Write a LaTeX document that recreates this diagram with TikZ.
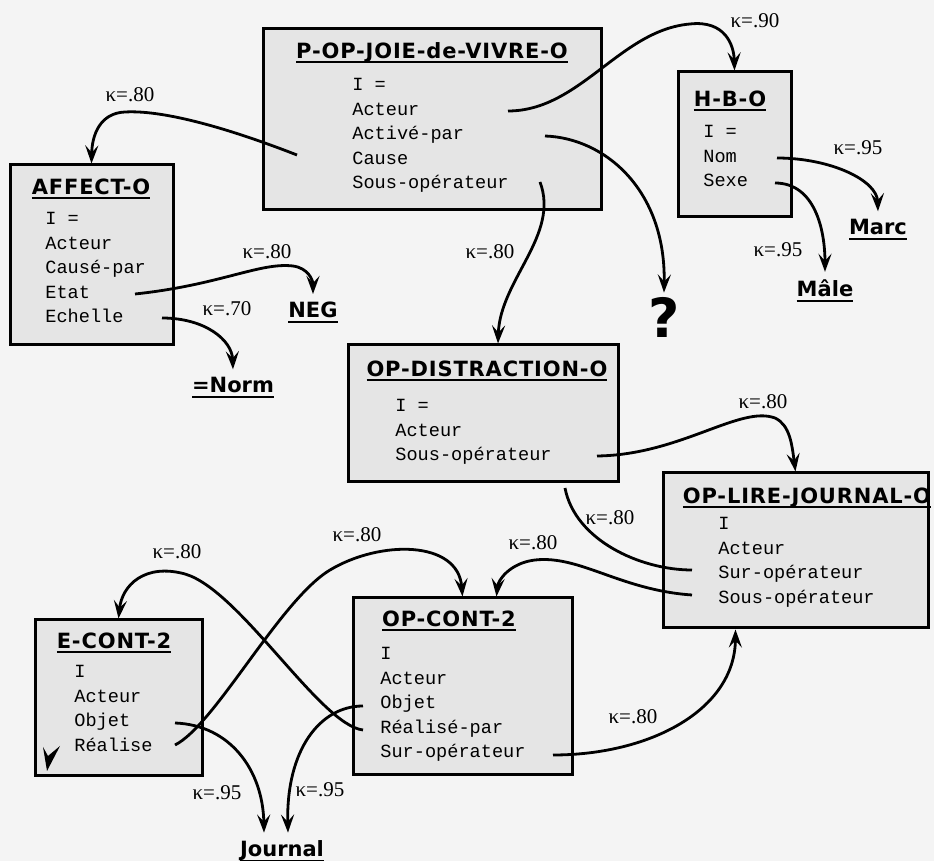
\documentclass[tikz,border=0pt]{standalone}
\usepackage{fontspec}
\setmainfont{Liberation Serif}
\newfontfamily\fieldfont{Liberation Mono}
\newfontfamily\titlefont{DejaVu Sans}[LetterSpace=4]
\newfontfamily\valuefont{DejaVu Sans}
\newsavebox\ulbox
\newcommand{\ulx}[1]{\sbox\ulbox{#1}\rlap{\vrule width\wd\ulbox height -1.3pt depth 2.3pt}\usebox\ulbox}
\usetikzlibrary{arrows.meta,positioning}

\begin{document}
\begin{tikzpicture}[x=0.5pt,y=-0.5pt,
    frame/.style={draw=black,line width=1.5pt,fill=gray!20,inner sep=0pt},
    head/.style={font=\titlefont\bfseries\fontsize{10.5}{12}\selectfont,inner sep=0pt,anchor=base},
    field/.style={font=\fieldfont\fontsize{9.3}{11}\selectfont,inner sep=0pt,anchor=base west},
    value/.style={font=\valuefont\bfseries\fontsize{10.5}{12}\selectfont,inner xsep=1pt,inner ysep=4pt,anchor=base},
    kappa/.style={font=\fontsize{10.5}{12}\selectfont,inner sep=0pt},
    link/.style={line width=1.4pt,-{Stealth[length=9pt,width=6.5pt,inset=3.5pt]}},
    plain/.style={line width=1.4pt}]
    % page
    \fill[gray!9] (0,0) rectangle (934,861);
    \useasboundingbox (0,0) rectangle (934,861);

    % P-OP-JOIE-de-VIVRE-O
    \node[frame,minimum width=169pt,minimum height=90.5pt] (pop) at (432,119.5) {};
    \node[head] (pop-t) at (432,58.5) {\ulx{P-OP-JOIE-de-VIVRE-O}};
    \foreach \t [count=\i] in {I =,Acteur,Activé-par,Cause,Sous-opérateur}
        \node[field] (pop-\i) at (352,{91+24.5*(\i-1)}) {\t};
    \coordinate (pop-acteur) at (508,111);
    \coordinate (pop-active) at (545,136);
    \coordinate (pop-cause) at (297,155);
    \coordinate (pop-sous) at (540,182);

    % H-B-O
    \node[frame,minimum width=56.5pt,minimum height=72.5pt] (hbo) at (734.5,144.5) {};
    \node[head] (hbo-t) at (730,106.5) {\ulx{H-B-O}};
    \foreach \t [count=\i] in {I =,Nom,Sexe}
        \node[field] (hbo-\i) at (703,{138+24.5*(\i-1)}) {\t};
    \coordinate (hbo-nom) at (777,158);
    \coordinate (hbo-sexe) at (775,183);

    % AFFECT-O
    \node[frame,minimum width=81.5pt,minimum height=90pt] (affect) at (91.5,255) {};
    \node[head] (affect-t) at (91,194.5) {\ulx{AFFECT-O}};
    \foreach \t [count=\i] in {I =,Acteur,Causé-par,Etat,Echelle}
        \node[field] (affect-\i) at (45,{225+24.5*(\i-1)}) {\t};
    \coordinate (affect-etat) at (135,294);
    \coordinate (affect-echelle) at (162,318);

    % OP-DISTRACTION-O
    \node[frame,minimum width=135pt,minimum height=68.5pt] (dist) at (483,413.5) {};
    \node[head] (dist-t) at (487,376.5) {\ulx{OP-DISTRACTION-O}};
    \foreach \t [count=\i] in {I =,Acteur,Sous-opérateur}
        \node[field] (dist-\i) at (395,{412+24.5*(\i-1)}) {\t};
    \coordinate (dist-sous) at (597,456);
    \coordinate (dist-bas) at (565,488);

    % OP-LIRE-JOURNAL-O
    \node[frame,minimum width=132.5pt,minimum height=77.5pt] (lire) at (795.5,550.5) {};
    \node[head] (lire-t) at (807,503.5) {\ulx{OP-LIRE-JOURNAL-O}};
    \foreach \t [count=\i] in {I,Acteur,Sur-opérateur,Sous-opérateur}
        \node[field] (lire-\i) at (718,{530+24.5*(\i-1)}) {\t};
    \coordinate (lire-sur) at (692,570);
    \coordinate (lire-sous) at (692,595);

    % OP-CONT-2
    \node[frame,minimum width=109.5pt,minimum height=88.5pt] (cont) at (462.5,686.5) {};
    \node[head] (cont-t) at (449,626.5) {\ulx{OP-CONT-2}};
    \foreach \t [count=\i] in {I,Acteur,Objet,Réalisé-par,Sur-opérateur}
        \node[field] (cont-\i) at (380,{660+24.5*(\i-1)}) {\t};
    \coordinate (cont-objet) at (363,706);
    \coordinate (cont-realise) at (363,730);
    \coordinate (cont-sur) at (553,755);

    % E-CONT-2
    \node[frame,minimum width=83.5pt,minimum height=78pt] (econt) at (118.5,698) {};
    \node[head] (econt-t) at (114,648.5) {\ulx{E-CONT-2}};
    \foreach \t [count=\i] in {I,Acteur,Objet,Réalise}
        \node[field] (econt-\i) at (74,{678+24.5*(\i-1)}) {\t};
    \coordinate (econt-objet) at (175,723);
    \coordinate (econt-realise) at (175,745);
    \fill (43,747) -- (47,771) -- (60,746) -- (48,756) -- cycle;

    % values
    \node[value] (marc) at (878,235) {\ulx{Marc}};
    \node[value] (male) at (825,297) {\ulx{Mâle}};
    \node[value] (neg) at (313,318) {\ulx{NEG}};
    \node[value] (norm) at (233,393) {\ulx{=Norm}};
    \node[value] (journal) at (282,857) {\ulx{Journal}};
    \node[font=\valuefont\bfseries\fontsize{27}{29}\selectfont,inner sep=2pt] (quoi) at (664,317) {?};

    % links
    \draw[link] (pop-acteur) .. controls (580,111) and (620,30) .. (690,24)
        .. controls (725,20) and (734,45) .. (hbo.north);
    \draw[link] (hbo-nom) .. controls (830,158) and (877,180) .. (marc.north);
    \draw[link] (hbo-sexe) .. controls (815,183) and (825,230) .. (male.north);
    \draw[link] (pop-active) .. controls (605,138) and (666,190) .. (quoi.north);
    \draw[link] (pop-cause) .. controls (220,125) and (160,110) .. (125,112)
        .. controls (100,113) and (92,135) .. (affect.north);
    \draw[link] (affect-etat) .. controls (220,285) and (260,262) .. (293,266)
        .. controls (308,268) and (313,280) .. (neg.north);
    \draw[link] (affect-echelle) .. controls (205,318) and (232,340) .. (norm.north);
    \draw[link] (pop-sous) .. controls (560,235) and (500,280) .. ([xshift=7.5pt]dist.north);
    \draw[link] (dist-sous) .. controls (680,455) and (740,405) .. (775,418)
        .. controls (790,425) and (792,445) .. (lire.north);
    \draw[plain] (dist-bas) .. controls (575,540) and (640,570) .. (lire-sur);
    \draw[link] (lire-sous) .. controls (620,590) and (580,555) .. (535,560)
        .. controls (510,563) and (498,580) .. ([xshift=17pt]cont.north);
    \draw[link] (econt-realise) .. controls (215,725) and (280,600) .. (330,570)
        .. controls (380,540) and (458,540) .. (cont.north);
    \draw[link] (cont-realise) .. controls (320,725) and (240,590) .. (185,574)
        .. controls (145,563) and (122,585) .. (econt.north);
    \draw[link] (econt-objet) .. controls (230,725) and (263,770) .. ([xshift=-9pt]journal.north);
    \draw[link] (cont-objet) .. controls (320,706) and (286,750) .. ([xshift=3pt]journal.north);
    \draw[link] (cont-sur) .. controls (650,755) and (735,710) .. ([xshift=-30pt]lire.south);

    % weights
    \node[kappa] (k1) at (755,21) {κ=.90};
    \node[kappa] (k2) at (858,148) {κ=.95};
    \node[kappa] (k3) at (778,250) {κ=.95};
    \node[kappa] (k4) at (130,95) {κ=.80};
    \node[kappa] (k5) at (267,252) {κ=.80};
    \node[kappa] (k6) at (227,309) {κ=.70};
    \node[kappa] (k7) at (490,252) {κ=.80};
    \node[kappa] (k8) at (763,402) {κ=.80};
    \node[kappa] (k9) at (610,518) {κ=.80};
    \node[kappa] (k10) at (357,535) {κ=.80};
    \node[kappa] (k11) at (533,543) {κ=.80};
    \node[kappa] (k12) at (177,552) {κ=.80};
    \node[kappa] (k13) at (633,717) {κ=.80};
    \node[kappa] (k14) at (217,793) {κ=.95};
    \node[kappa] (k15) at (320,790) {κ=.95};
\end{tikzpicture}
\end{document}
